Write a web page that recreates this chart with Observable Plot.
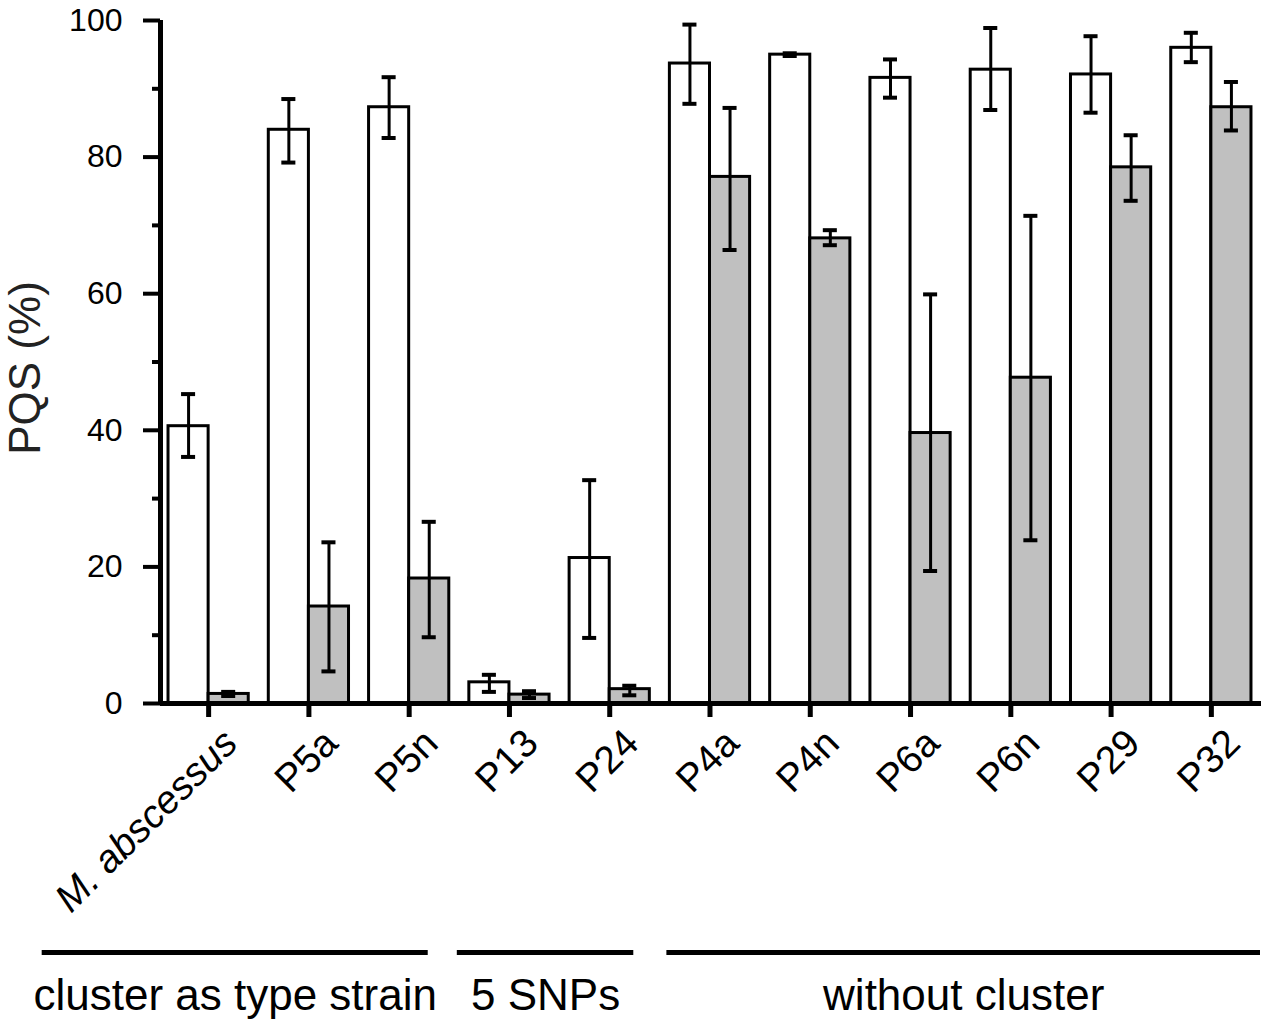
<!DOCTYPE html>
<html><head><meta charset="utf-8">
<script src="https://cdn.jsdelivr.net/npm/d3@7"></script>
<script src="https://cdn.jsdelivr.net/npm/@observablehq/plot@0.6"></script>
<style>
html,body{margin:0;padding:0;background:#fff;}
#chart svg{display:block;}
</style></head><body><div id="chart"></div>
<script>
// ---------- data ----------
const strains = ["M. abscessus","P5a","P5n","P13","P24","P4a","P4n","P6a","P6n","P29","P32"];
const italicStrains = ["M. abscessus"];
const whiteMean = [40.6, 84.0, 87.3, 3.1, 21.3, 93.7, 95.0, 91.6, 92.8, 92.1, 96.0];
const whiteLow  = [36.1, 79.2, 82.8, 1.7,  9.6, 87.8, 94.8, 88.7, 86.9, 86.5, 93.9];
const whiteHigh = [45.3, 88.5, 91.7, 4.2, 32.7, 99.4, 95.2, 94.3, 98.9, 97.7, 98.2];
const grayMean  = [1.4, 14.2, 18.3, 1.3, 2.1, 77.1, 68.1, 39.6, 47.7, 78.5, 87.3];
const grayLow   = [1.1,  4.7,  9.7, 0.8, 1.2, 66.4, 67.1, 19.4, 23.9, 73.6, 83.9];
const grayHigh  = [1.7, 23.6, 26.6, 1.8, 2.6, 87.2, 69.3, 59.9, 71.4, 83.2, 91.0];
const yTicks = [0, 20, 40, 60, 80, 100];
const yMinorTicks = [10, 30, 50, 70, 90];
const groupLabels = ["cluster as type strain", "5 SNPs", "without cluster"];

// ---------- layout ----------
const xMin = -0.48, xMax = 10.5;
const barW = 0.4, capHalf = 0.07;
const groupSpan = [[-1.66, 2.19], [2.48, 4.24], [4.57, 10.49]];
const font = "'Liberation Sans', Arial, Helvetica, sans-serif";

const rows = strains.flatMap((s, i) => [
  {s, i, kind: "white", x1: i - barW, x2: i, xc: i - barW / 2, mean: whiteMean[i], lo: whiteLow[i], hi: whiteHigh[i]},
  {s, i, kind: "gray", x1: i, x2: i + barW, xc: i + barW / 2, mean: grayMean[i], lo: grayLow[i], hi: grayHigh[i]}
]);
const labels = strains.map((s, i) => ({s, i, italic: italicStrains.includes(s)}));
const groups = groupLabels.map((g, k) => ({g, x1: groupSpan[k][0], x2: groupSpan[k][1], xm: (groupSpan[k][0] + groupSpan[k][1]) / 2}));

const labelOpts = {x: "i", frameAnchor: "bottom", text: "s", rotate: -45, textAnchor: "end", lineAnchor: "bottom", dx: 31, dy: 42, fontSize: 39, fill: "black"};

const chart = Plot.plot({
  width: 1267, height: 1027,
  marginLeft: 160, marginRight: 6, marginTop: 20, marginBottom: 324,
  x: {domain: [xMin, xMax], axis: null, label: null},
  y: {domain: [0, 100], axis: null, label: null},
  style: {fontFamily: font, color: "black", background: "white"},
  marks: [
    Plot.rectY(rows.filter(d => d.kind === "white"), {x1: "x1", x2: "x2", y1: 0, y2: "mean", fill: "white", stroke: "black", strokeWidth: 3}),
    Plot.rectY(rows.filter(d => d.kind === "gray"), {x1: "x1", x2: "x2", y1: 0, y2: "mean", fill: "#c0c0c0", stroke: "black", strokeWidth: 3}),
    Plot.ruleX(rows, {x: "xc", y1: "lo", y2: "hi", stroke: "black", strokeWidth: 3}),
    Plot.ruleY(rows, {y: "hi", x1: d => d.xc - capHalf, x2: d => d.xc + capHalf, stroke: "black", strokeWidth: 4}),
    Plot.ruleY(rows, {y: "lo", x1: d => d.xc - capHalf, x2: d => d.xc + capHalf, stroke: "black", strokeWidth: 4}),
    // axes
    Plot.axisY({ticks: yTicks, tickSize: 17, tickPadding: 21, strokeWidth: 4, fontSize: 32, label: null, anchor: "left", fill: "black", stroke: "black"}),
    Plot.axisY({ticks: yMinorTicks, tickSize: 8, tickFormat: () => "", strokeWidth: 4, label: null, anchor: "left", stroke: "black"}),
    Plot.axisX({ticks: d3.range(strains.length), tickSize: 14, tickFormat: () => "", strokeWidth: 5, label: null, anchor: "bottom", stroke: "black"}),
    Plot.ruleY([0], {stroke: "black", strokeWidth: 5}),
    Plot.ruleX([xMin], {y1: 0, y2: 100, stroke: "black", strokeWidth: 5}),
    // tick labels
    Plot.text(labels.filter(d => !d.italic), labelOpts),
    Plot.text(labels.filter(d => d.italic), {...labelOpts, fontStyle: "italic"}),
    // y label
    Plot.text(["PQS (%)"], {text: d => d, frameAnchor: "left", textAnchor: "middle", rotate: -90, dx: -135, dy: 6, fontSize: 44, fill: "#222"}),
    // group annotations
    Plot.ruleY(groups, {y: () => 0, x1: "x1", x2: "x2", dy: 249, stroke: "black", strokeWidth: 5}),
    Plot.text(groups, {x: "xm", frameAnchor: "bottom", text: "g", lineAnchor: "bottom", dy: 306, fontSize: 44, fill: "black"})
  ]
});
document.getElementById("chart").appendChild(chart);
</script>
</body></html>
